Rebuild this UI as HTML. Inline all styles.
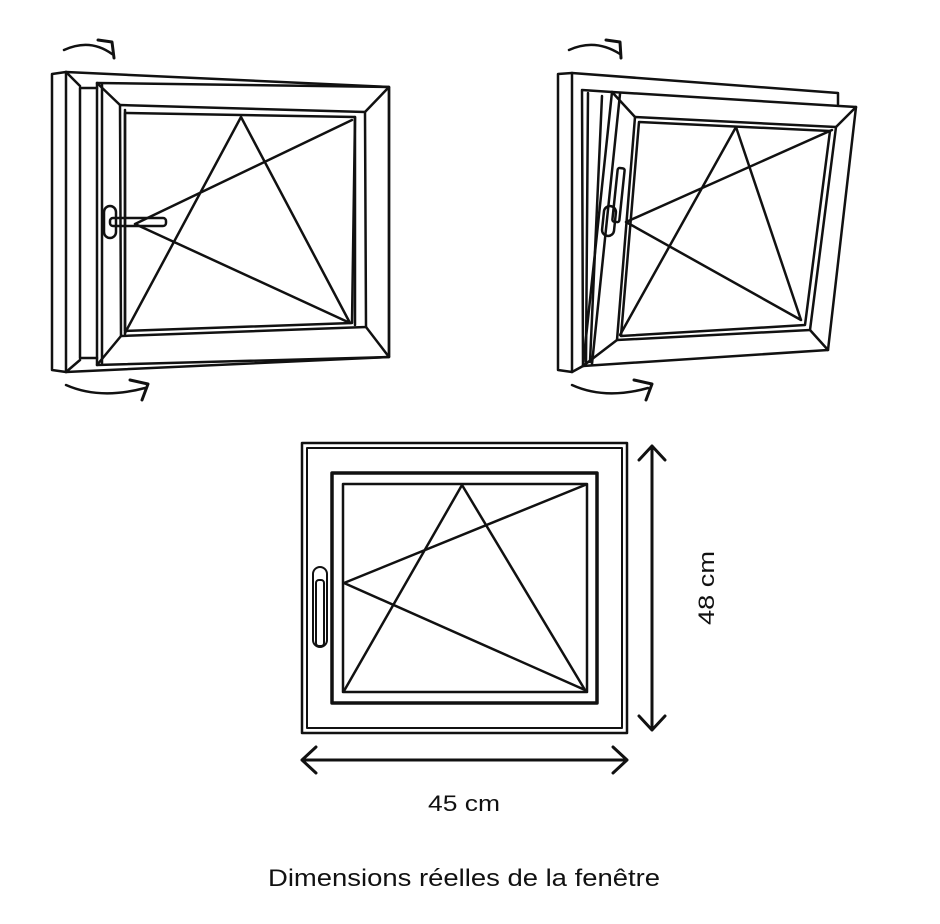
<!DOCTYPE html>
<html><head><meta charset="utf-8"><style>
html,body{margin:0;padding:0;background:#fff;}
svg{display:block;}
text{font-family:"Liberation Sans",sans-serif;fill:#111;}
</style></head><body>
<svg width="940" height="924" viewBox="0 0 940 924" xmlns="http://www.w3.org/2000/svg">
<g fill="none" stroke="#111" stroke-width="2.5" stroke-linejoin="round" stroke-linecap="round">
<!-- Top-left window -->
<path d="M64,50 Q90,38 112,54" /><path d="M98,40 L112,42 L114,58" stroke-width="3"/>
<path d="M66,385 Q100,400 145,388"/><path d="M130,380 L148,384 L142,400" stroke-width="3"/>
<path d="M52,74 L66,72 L66,372 L52,370 Z"/>
<path d="M66,72 L389,87 L389,357 L66,372"/>
<path d="M66,72 L80,86 M66,372 L80,360"/>
<path d="M80,88 L97,88 M80,358 L97,358 M80,88 L80,358"/>
<path d="M97,83 L389,87 L389,357 L97,365 Z"/>
<path d="M120,105 L365,112 L366,327 L121,336 Z"/>
<path d="M97,83 L120,105 M389,87 L365,112 M389,357 L366,327 M97,365 L121,336"/>
<path d="M102,85 L102,363"/>
<path d="M125,113 L355,117 L352,323 L125,331 Z"/>
<path d="M125,110 L125,334 M355,117 L355,325"/>
<path d="M241,117 L125,333 M241,117 L350,323 M135,224 L352,120 M135,224 L350,323"/>
<rect x="104" y="206" width="12" height="32" rx="6"/>
<rect x="110" y="218" width="56" height="8" rx="3"/>
<!-- Top-right window -->
<path d="M569,50 Q595,38 620,54"/><path d="M606,40 L620,42 L621,58" stroke-width="3"/>
<path d="M572,385 Q605,400 648,388"/><path d="M634,380 L652,384 L646,400" stroke-width="3"/>
<path d="M558,74 L572,73 L572,372 L558,370 Z"/>
<path d="M572,73 L838,93 L838,104"/>
<path d="M582,90 L612,92 M582,90 L583,366 M572,372 L583,366"/>
<path d="M588,93 L586,362 M602,96 L590,362"/>
<path d="M612,92 L856,107 L828,350 L583,366 Z"/>
<path d="M635,117 L836,127 L810,330 L617,340 Z"/>
<path d="M612,92 L635,117 M856,107 L836,127 M828,350 L810,330 M583,366 L617,340"/>
<path d="M620,94 L592,364"/>
<path d="M639,122 L830,131 L805,325 L621,336 Z"/>
<path d="M736,127 L620,335 M736,127 L801,320 M626,222 L832,130 M626,222 L801,320"/>
<rect x="603" y="206" width="12" height="30" rx="6" transform="rotate(6 609 221)"/>
<rect x="615" y="168" width="7" height="54" rx="2" transform="rotate(6 618 195)"/>
<!-- Bottom window -->
<rect x="302" y="443" width="325" height="290"/>
<rect x="307" y="448" width="315" height="280" stroke-width="2"/>
<rect x="332" y="473" width="265" height="230" stroke-width="3.5"/>
<rect x="343" y="484" width="244" height="208"/>
<path d="M462,485 L344,691 M462,485 L585,690 M344,583 L585,485 M344,583 L585,690"/>
<rect x="313" y="567" width="14" height="80" rx="7" stroke-width="2"/>
<rect x="316" y="580" width="8" height="66" rx="3" stroke-width="2"/>
<!-- dimension arrows -->
<path d="M652,446 L652,730 M639,460 L652,446 L665,460 M639,716 L652,730 L665,716" stroke-width="3"/>
<path d="M302,760 L627,760 M316,747 L302,760 L316,773 M613,747 L627,760 L613,773" stroke-width="3"/>
</g>
<text x="0" y="8" font-size="22" text-anchor="middle" textLength="74" lengthAdjust="spacingAndGlyphs" transform="translate(706 588) rotate(-90)">48 cm</text>
<text x="464" y="811" font-size="22" text-anchor="middle" textLength="72" lengthAdjust="spacingAndGlyphs">45 cm</text>
<text x="464" y="886" font-size="24" text-anchor="middle" textLength="392" lengthAdjust="spacingAndGlyphs">Dimensions réelles de la fenêtre</text>
</svg>
</body></html>
